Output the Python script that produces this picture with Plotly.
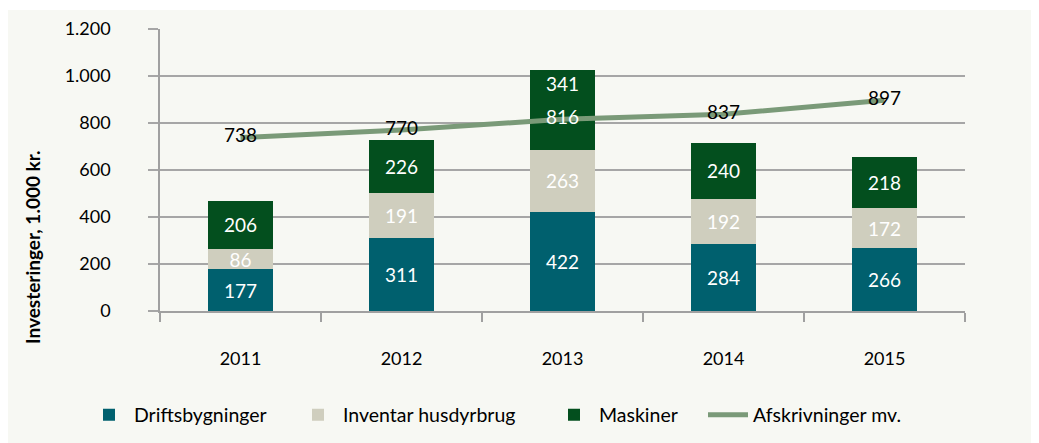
import plotly.graph_objects as go

years = ["2011", "2012", "2013", "2014", "2015"]
driftsbygninger = [177, 311, 422, 284, 266]
inventar = [86, 191, 263, 192, 172]
maskiner = [206, 226, 341, 240, 218]
afskrivninger = [738, 770, 816, 837, 897]
line_label_colors = ["#000000", "#000000", "#ffffff", "#000000", "#000000"]
y_ticks = [0, 200, 400, 600, 800, 1000, 1200]
y_tick_labels = ["0", "200", "400", "600", "800", "1.000", "1.200"]

FONT = "Lato"
W, H = 1031, 435
L, R, T, B = 152, 74, 21, 132
pw, ph = W - L - R, H - T - B

def px_x(px):
    return (px - L) / pw

def px_y(py):
    return (H - B - py) / ph

fig = go.Figure()
top_idx = 2
maskiner_text = [str(v) for v in maskiner]
maskiner_text[top_idx] = ""
bar_specs = [
    ("Driftsbygninger", driftsbygninger, "#00606e", [str(v) for v in driftsbygninger], "legend"),
    ("Inventar husdyrbrug", inventar, "#cfcebe", [str(v) for v in inventar], "legend2"),
    ("Maskiner", maskiner, "#034f1e", maskiner_text, "legend3"),
]
for name, vals, col, txt, lg in bar_specs:
    fig.add_trace(go.Bar(
        x=years, y=vals, name=name, marker=dict(color=col, line=dict(width=0)),
        text=txt, textposition="inside", insidetextanchor="middle", textangle=0,
        textfont=dict(color="white", size=19, family=FONT),
        hoverinfo="skip", legend=lg,
    ))

fig.add_trace(go.Scatter(
    x=years, y=afskrivninger, name="Afskrivninger mv.", mode="lines+text",
    line=dict(color="#7a9a78", width=5),
    text=[str(v) for v in afskrivninger], textposition="middle center",
    textfont=dict(color=line_label_colors, size=19, family=FONT),
    legend="legend4",
))

top_total = driftsbygninger[top_idx] + inventar[top_idx] + maskiner[top_idx]

def legend_at(fx):
    return dict(orientation="h", x=px_x(fx), y=px_y(407), xanchor="left", yanchor="middle",
                font=dict(size=19.5, family=FONT), bgcolor="rgba(0,0,0,0)", itemwidth=40)

fig.update_layout(
    width=W, height=H,
    margin=dict(l=L, r=R, t=T, b=B, autoexpand=False),
    barmode="stack", bargap=0.6,
    paper_bgcolor="#f7f8f3", plot_bgcolor="#f7f8f3",
    font=dict(family=FONT, size=18, color="#000000"),
    uniformtext=dict(minsize=19, mode="show"),
    showlegend=True,
    legend=legend_at(76),
    legend2=legend_at(285),
    legend3=legend_at(541),
    legend4=legend_at(695),
    xaxis=dict(type="category", categoryorder="array", categoryarray=years,
               showgrid=False, showline=True, linecolor="#a0a0a0", linewidth=1.5,
               ticks="outside", tickson="boundaries", ticklen=9, tickcolor="#a0a0a0", tickwidth=1.5,
               ticklabelstandoff=31, tickfont=dict(size=18, family=FONT)),
    yaxis=dict(range=[0, 1200], tickvals=y_ticks, ticktext=y_tick_labels,
               showgrid=True, gridcolor="#a6a6a6", gridwidth=1.5,
               showline=True, linecolor="#a0a0a0", linewidth=1.5,
               ticks="outside", ticklen=10, tickcolor="#a6a6a6", tickwidth=1.5,
               ticklabelstandoff=34, zeroline=False, tickfont=dict(size=18, family=FONT)),
    annotations=[
        dict(text="<b>Investeringer, 1.000 kr.</b>", textangle=-90,
             x=px_x(24), y=px_y(239), xref="paper", yref="paper",
             xanchor="center", yanchor="middle", showarrow=False,
             font=dict(size=19, family=FONT)),
        dict(text=str(maskiner[top_idx]), x=top_idx, y=top_total, xref="x", yref="y",
             xanchor="center", yanchor="top", yshift=0, showarrow=False,
             font=dict(size=19, family=FONT, color="white")),
    ],
    shapes=[
        dict(type="rect", xref="paper", yref="paper", x0=px_x(0), x1=px_x(W), y0=px_y(2), y1=px_y(0),
             fillcolor="white", line=dict(width=0), layer="below"),
    ],
)

fig.write_html("out.html")
